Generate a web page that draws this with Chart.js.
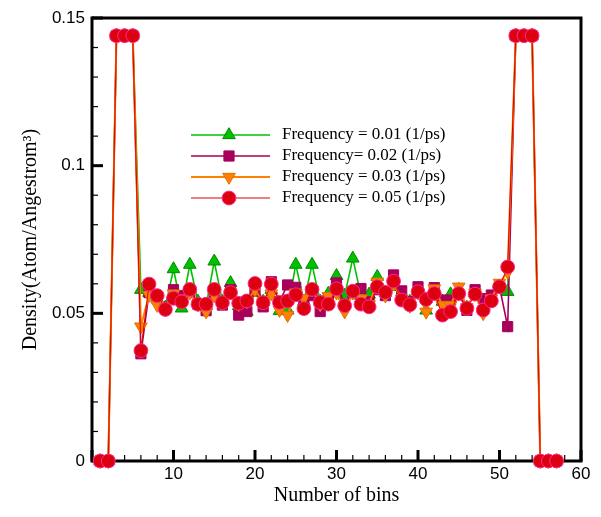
<!DOCTYPE html>
<html>
<head>
<meta charset="utf-8">
<script src="https://cdn.jsdelivr.net/npm/chart.js@4.4.1/dist/chart.umd.min.js"></script>
<style>
html,body{margin:0;padding:0;background:#fff;}
#wrap{width:601px;height:517px;position:relative;}
</style>
</head>
<body>
<div id="wrap"><canvas id="c" width="601" height="517"></canvas></div>
<script>
const bins = [1,2,3,4,5,6,7,8,9,10,11,12,13,14,15,16,17,18,19,20,21,22,23,24,25,26,27,28,29,30,31,32,33,34,35,36,37,38,39,40,41,42,43,44,45,46,47,48,49,50,51,52,53,54,55,56,57];

const freq001 = [0,0,0.144,0.144,0.144,0.058,0.057,0.055,0.052,0.065,0.0517,0.0665,0.054,0.0525,0.0676,0.054,0.0603,0.0525,0.0506,0.057,0.054,0.058,0.0508,0.051,0.0665,0.054,0.0665,0.054,0.0567,0.0627,0.056,0.0686,0.056,0.0564,0.0624,0.057,0.059,0.056,0.054,0.057,0.051,0.057,0.054,0.0565,0.058,0.052,0.057,0.052,0.055,0.059,0.0573,0.144,0.144,0.144,0,0,0];

const freq002 = [0,0,0.144,0.144,0.144,0.0363,0.057,0.055,0.052,0.058,0.056,0.057,0.053,0.0509,0.057,0.0528,0.058,0.0494,0.0506,0.058,0.0522,0.0607,0.054,0.0596,0.0588,0.054,0.056,0.0506,0.055,0.0603,0.053,0.057,0.0584,0.054,0.058,0.056,0.063,0.0576,0.054,0.059,0.055,0.0587,0.0545,0.0545,0.0565,0.051,0.058,0.055,0.0562,0.059,0.0455,0.144,0.144,0.144,0,0,0];

const freq003 = [0,0,0.144,0.144,0.144,0.0455,0.0562,0.0528,0.052,0.0567,0.055,0.057,0.053,0.0506,0.056,0.054,0.057,0.053,0.054,0.058,0.054,0.0567,0.0511,0.0494,0.057,0.0551,0.058,0.053,0.0558,0.057,0.0506,0.057,0.055,0.053,0.0607,0.056,0.060,0.055,0.0525,0.057,0.0505,0.0584,0.0528,0.0528,0.059,0.052,0.057,0.050,0.055,0.0603,0.064,0.144,0.144,0.144,0,0,0];

const freq005 = [0,0,0.144,0.144,0.144,0.0374,0.0599,0.056,0.0513,0.0551,0.0539,0.0581,0.0531,0.0531,0.0581,0.0536,0.057,0.0534,0.0542,0.0601,0.0536,0.0599,0.0537,0.0542,0.0563,0.0516,0.0581,0.0537,0.0531,0.0583,0.0526,0.0575,0.0531,0.0522,0.059,0.0571,0.0609,0.0545,0.0529,0.0573,0.0547,0.0567,0.0494,0.0506,0.0567,0.0517,0.0565,0.0511,0.0542,0.059,0.0657,0.144,0.144,0.144,0,0,0];

const seriesLabels = ['Frequency = 0.01 (1/ps)','Frequency= 0.02 (1/ps)','Frequency = 0.03 (1/ps)','Frequency = 0.05 (1/ps)'];
const xTickLabels = ['','10','20','30','40','50','60'];
const yTickLabels = ['0','0.05','0.1','0.15'];
const xTitle = 'Number of bins';
const yTitle = 'Density(Atom/Angestrom\u00B3)';

function pts(arr){ return bins.map((b,i)=>({x:b,y:arr[i]})); }

const styles = [
  {color:'#00c000', fill:'#00c000', edge:'#008a00', style:'triangle', rot:0, r:7.3, lw:1.6, order:4},
  {color:'#a8005a', fill:'#a8005a', edge:'#a8005a', style:'rect', rot:0, r:7.2, lw:1.6, order:3},
  {color:'#ff8000', fill:'#ff8000', edge:'#e07000', style:'triangle', rot:180, r:7.3, lw:2, order:2},
  {color:'#e00000', fill:'#dd0010', edge:'#ff2a8a', style:'circle', rot:0, r:6.9, lw:1, order:1}
];
const seriesData = [freq001, freq002, freq003, freq005];

const datasets = seriesData.map((arr,i)=>({
  label: seriesLabels[i],
  data: pts(arr),
  borderColor: styles[i].color,
  borderWidth: styles[i].lw,
  backgroundColor: styles[i].fill,
  pointBackgroundColor: styles[i].fill,
  pointBorderColor: styles[i].edge,
  pointBorderWidth: 1,
  pointStyle: styles[i].style,
  pointRotation: styles[i].rot,
  pointRadius: styles[i].r,
  pointHoverRadius: styles[i].r,
  tension: 0,
  fill: false,
  clip: false,
  order: styles[i].order
}));

const framePlugin = {
  id:'frame',
  beforeDatasetsDraw(chart){
    const {ctx, chartArea:a, scales:{x,y}} = chart;
    ctx.save();
    ctx.strokeStyle = '#000';
    for (let v=0; v<=60; v+=2){
      const px = x.getPixelForValue(v);
      const major = (v % 10 === 0);
      ctx.lineWidth = major ? 3 : 1.2;
      ctx.beginPath();
      ctx.moveTo(px, a.bottom);
      ctx.lineTo(px, a.bottom - (major ? 11 : 6));
      ctx.stroke();
    }
    for (let k=0; k<=15; k++){
      const v = k/100;
      const py = y.getPixelForValue(v);
      const major = (k % 5 === 0);
      ctx.lineWidth = major ? 3 : 1.2;
      ctx.beginPath();
      ctx.moveTo(a.left, py);
      ctx.lineTo(a.left + (major ? 11 : 6), py);
      ctx.stroke();
    }
    ctx.lineWidth = 3;
    ctx.beginPath();
    ctx.moveTo(a.left, a.top); ctx.lineTo(a.right, a.top); ctx.lineTo(a.right, a.bottom);
    ctx.stroke();
    ctx.beginPath();
    ctx.moveTo(a.left, a.top-1.5); ctx.lineTo(a.left, a.bottom); ctx.lineTo(a.right+1.5, a.bottom);
    ctx.stroke();
    ctx.restore();
  },
  afterDraw(chart){
    const ctx = chart.ctx;
    const rows = [135, 156, 177, 198];
    ctx.save();
    for (let i=0;i<4;i++){
      const s = styles[i];
      const yy = rows[i];
      ctx.strokeStyle = s.color;
      ctx.lineWidth = s.lw;
      ctx.beginPath(); ctx.moveTo(191, yy); ctx.lineTo(270, yy); ctx.stroke();
      ctx.fillStyle = s.fill;
      ctx.strokeStyle = s.edge;
      ctx.lineWidth = 1;
      Chart.helpers.drawPoint(ctx, {pointStyle:s.style, rotation:s.rot, radius:s.r, borderWidth:1}, 229, yy);
      ctx.fillStyle = '#000';
      ctx.font = '17px "Liberation Serif"';
      ctx.textBaseline = 'middle';
      ctx.textAlign = 'left';
      ctx.fillText(seriesLabels[i], 282, yy);
    }
    ctx.restore();
  }
};

new Chart(document.getElementById('c'), {
  type:'line',
  data:{ datasets },
  options:{
    responsive:false,
    animation:false,
    devicePixelRatio:1,
    layout:{ padding:{left:0, top:18, right:20, bottom:0} },
    plugins:{ legend:{display:false}, tooltip:{enabled:false} },
    scales:{
      x:{
        type:'linear', min:0, max:60,
        afterFit(s){ s.height = 56; },
        grid:{ display:false, drawTicks:false },
        border:{ display:false },
        ticks:{ stepSize:10, padding:3, color:'#000', font:{family:'"Liberation Sans"', size:17},
          maxRotation:0, autoSkip:false,
          callback:(v)=> xTickLabels[Math.round(v/10)] },
        title:{ display:true, text:xTitle, color:'#000', font:{family:'"Liberation Serif"', size:20}, padding:{top:0,bottom:9} }
      },
      y:{
        type:'linear', min:0, max:0.15,
        afterFit(s){ s.width = 92; },
        grid:{ display:false, drawTicks:false },
        border:{ display:false },
        ticks:{ stepSize:0.05, padding:7, color:'#000', font:{family:'"Liberation Sans"', size:17},
          callback:(v)=> yTickLabels[Math.round(v/0.05)] },
        title:{ display:true, text:yTitle, color:'#000', font:{family:'"Liberation Serif"', size:20}, padding:{top:19,bottom:0} }
      }
    }
  },
  plugins:[framePlugin]
});
</script>
</body>
</html>
